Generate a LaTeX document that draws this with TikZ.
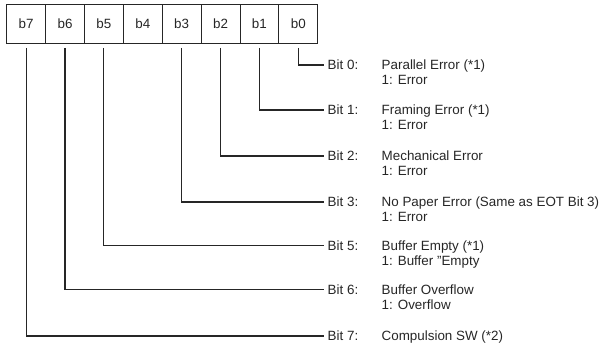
\documentclass[tikz,border=0pt]{standalone}
\usepackage{fontspec}
\setmainfont{Liberation Sans}
\begin{document}
\begin{tikzpicture}[x=1pt,y=-1pt,
  txt/.style={font=\fontsize{13.4}{15}\selectfont, text=black!85},
  cell/.style={draw=black!85, line width=0.9pt, minimum width=38.875pt, minimum height=38.6pt, inner sep=0pt, outer sep=0pt, txt},
  bitlbl/.style={txt, anchor=west, inner xsep=3.5pt, inner ysep=0pt, text height=9.6pt, text depth=0pt},
  desc/.style={txt, anchor=base west, inner sep=0pt},
  conn/.style={draw=black!85, line width=1.1pt, shorten <=4.5pt}
]
\useasboundingbox (0,0) rectangle (614,346);
% register cells
\foreach \b [count=\i from 0] in {7,6,5,4,3,2,1,0} {
  \node[cell] (c\b) at (26.14+\i*38.875, 24) {b\b};
}
% bit labels (west anchor = line end)
\node[bitlbl] (t0) at (324,65) {Bit 0:};
\node[bitlbl] (t1) at (324,110) {Bit 1:};
\node[bitlbl] (t2) at (324,156) {Bit 2:};
\node[bitlbl] (t3) at (324,202) {Bit 3:};
\node[bitlbl] (t5) at (324,245.3) {Bit 5:};
\node[bitlbl] (t6) at (324,289.3) {Bit 6:};
\node[bitlbl] (t7) at (324,336) {Bit 7:};
% descriptions
\node[desc] (d0) at (381.5,69.8) {Parallel Error (*1)};
\node[desc] (e0) at (381.5,84.8) {1: Error};
\node[desc] (d1) at (381.5,114.8) {Framing Error (*1)};
\node[desc] (e1) at (381.5,129.8) {1: Error};
\node[desc] (d2) at (381.5,160.8) {Mechanical Error};
\node[desc] (e2) at (381.5,175.8) {1: Error};
\node[desc] (d3) at (381.5,206.8) {No Paper Error (Same as EOT Bit 3)};
\node[desc] (e3) at (381.5,221.8) {1: Error};
\node[desc] (d5) at (381.5,250.1) {Buffer Empty (*1)};
\node[desc] (e5) at (381.5,265.1) {1: Buffer "Empty};
\node[desc] (d6) at (381.5,294.1) {Buffer Overflow};
\node[desc] (e6) at (381.5,309.1) {1: Overflow};
\node[desc] (d7) at (381.5,340.8) {Compulsion SW (*2)};
% connectors
\foreach \b in {0,1,2,3,5,6,7} {
  \draw[conn] (c\b.south) |- (t\b.west);
}
\end{tikzpicture}
\end{document}
